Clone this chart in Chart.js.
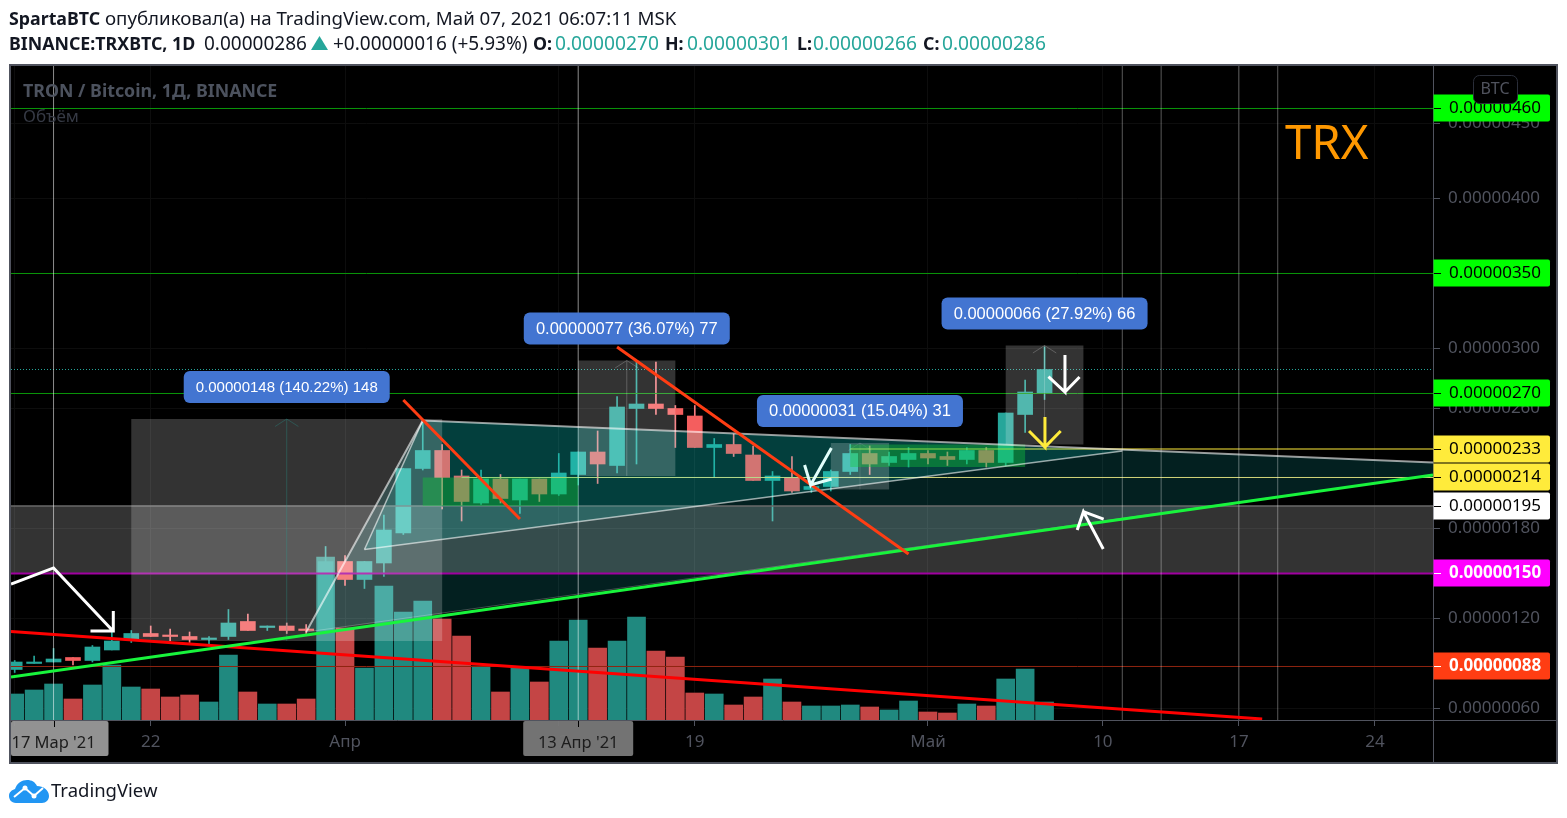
<!DOCTYPE html>
<html lang="ru"><head><meta charset="utf-8"><title>TRXBTC</title>
<script src="https://cdn.jsdelivr.net/npm/chart.js@4/dist/chart.umd.min.js"></script>
<style>
html,body{margin:0;padding:0;background:#fff;width:1567px;height:818px;overflow:hidden}
canvas{position:absolute;left:0;top:0}
.h{position:absolute;white-space:nowrap;font-family:"Noto Sans",sans-serif;font-size:19px;line-height:22px;color:#131722}
.b{font-weight:700;font-size:17.8px}.t{color:#26a69a;font-size:19.2px}
</style></head><body>
<canvas id="c" width="1567" height="818"></canvas>
<div class="h" style="left:9px;top:7px;font-size:18.7px"><span class="b">SpartaBTC</span> опубликовал(а) на TradingView.com, Май 07, 2021 06:07:11 MSK</div>
<div class="h b" style="left:9px;top:32px">BINANCE:TRXBTC, 1D</div>
<div class="h" style="left:204px;top:32px">0.00000286</div>
<svg style="position:absolute;left:311px;top:36px" width="17" height="14"><polygon points="8.5,0 17,14 0,14" fill="#26a69a"/></svg>
<div class="h" style="left:333px;top:32px">+0.00000016 (+5.93%)</div>
<div class="h b" style="left:533px;top:32px">O:</div><div class="h t" style="left:555px;top:32px">0.00000270</div>
<div class="h b" style="left:665px;top:32px">H:</div><div class="h t" style="left:687px;top:32px">0.00000301</div>
<div class="h b" style="left:797px;top:32px">L:</div><div class="h t" style="left:813px;top:32px">0.00000266</div>
<div class="h b" style="left:923px;top:32px">C:</div><div class="h t" style="left:942px;top:32px">0.00000286</div>
<svg style="position:absolute;left:9px;top:780px" width="40" height="23" viewBox="0 0 40 23"><path d="M7 23C2 23 0 19 0 16c0-4 3-6 6-7C8 3 13 0 18 0c5 0 8 2 10 6 6 0 12 4 12 10 0 4-3 7-7 7z" fill="#2196f3"/><path d="M5 17l11-9 9 8 9-8" fill="none" stroke="#fff" stroke-width="2"/><circle cx="16" cy="8" r="2.5" fill="#fff"/><circle cx="25" cy="16" r="2.5" fill="#fff"/></svg>
<div class="h" style="left:51px;top:779px;font-size:18.5px">TradingView</div>
<script>
// prices are in satoshi (1e-8 BTC); days are counted from 17 Mar 2021
const days=[-2,-1,0,1,2,3,4,5,6,7,8,9,10,11,12,13,14,15,16,17,18,19,20,21,22,23,24,25,26,27,28,29,30,31,32,33,34,35,36,37,38,39,40,41,42,43,44,45,46,47,48,49,50,51];
const opens=[86,90,91,94,92,99,106,110,109,108,106,108,118,114,115,113,112,158,146,157,177,220,232,215,197,213,199,213,203,216,231,222,260,263,260,255,234,236,229,212,214,206,208,218,230,224,226,230,228,226,232,224,256,270];
const highs=[92,95,100,94,102,112,112,115,113,111,108,126,123,115,117,116,168,162,158,189,220,251,236,219,219,216,213,213,230,231,245,268,292,291,262,262,240,243,235,218,228,210,219,236,235,231,234,232,231,234,234,257,279,301];
const lows=[84,90,91,89,91,99,104,108,105,104,103,106,112,112,110,110,112,142,140,148,176,219,193,185,196,197,190,198,202,209,210,217,223,256,234,234,214,228,212,185,204,204,205,216,216,222,221,223,222,223,221,222,244,266];
const closes=[91,91,93,92,101,105,110,108,108,106,107,117,112,115,112,112,158,146,158,179,220,232,214,198,213,200,213,203,217,231,223,261,263,260,256,234,236,230,212,215,205,208,218,230,223,228,230,227,226,232,224,257,271,286];
const volumes=[26,30,36,21,35,55,33,31,23,25,18,65,28,16,16,21,163,92,52,134,108,119,101,84,54,28,52,38,79,100,72,79,103,69,63,27,26,15,23,41,18,14,14,15,13,10,19,8,7,16,14,41,51,18];
const yTickValues=[60,120,180,260,300,400,450];
const xTickValues=[-2,5,15,26,33,45,54,61,68];
const xTickLabels=["15","22","Апр","12","19","Май","10","17","24"];
const levelPrices=[460,350,270,233,214,195,150,88];
const levelStarts=[-2.19,-2.19,-2.19,41,21,-2.19,-2.19,-2.19];
const levelLine=["#0a960a","#0a960a","#0a960a","#ffeb3b","#d4d67a","#6a6a6a","#a000a0","#8f2410"];
const levelWidths=[1,1,1,1.2,1,1.5,2,1];
const tagFills=["#00ff00","#00ff00","#00ff00","#ffeb3b","#ffeb3b","#ffffff","#ff00ff","#ff3d13"];
const tagInk=["#000","#000","#000","#000","#000","#000","#fff","#fff"];
const lastPrice=286;
const crossDays=[0,27];
const crossLabels=["17 Мар '21","13 Апр '21"];
const crossFills=["rgba(152,152,152,.96)","rgba(120,120,120,.96)"];
const extraVerticals=[55,57,61,63];
const rangeStart=[4,27,40,49];
const rangeEnd=[20,32,43,53];
const rangeLow=[105,215,206,236];
const rangeHigh=[253,292,237,302];
const rangeLabels=["0.00000148 (140.22%) 148","0.00000077 (36.07%) 77","0.00000031 (15.04%) 31","0.00000066 (27.92%) 66"];
const rangeStem=["rgba(38,166,154,.3)","rgba(255,255,255,.22)","rgba(255,255,255,.12)","rgba(255,255,255,.22)"];
const greenBoxes=[[19,27,195,214],[41,50,221,236]];
const outerPattern=[[13,111],[19,252],[71.02,224],[71.02,215.7]];
const innerPattern=[[16,166],[19,252],[55,231.7]];
const risingTrend=[[-2.19,81],[70.99,215.7]];
const fallingTrend=[[-2.19,111.3],[62.2,53]];
const orangeTrends=[[[18,265.7],[24,186.3]],[[29,301],[44,163]]];
const whiteArrows=[
 [[-2.19,143],[0,153.7],[3.06,111.7],[3.09,125],[3.06,111.7],[1.9,111.7]],
 [[52.05,295.7],[52.05,271],[51.2,281.2],[52.05,271],[52.8,281]],
 [[54.02,166.3],[53,191.2],[52.68,179],[53,191.2],[54.04,186.3]]];
const paleArrow=[[40.03,233.7],[38.96,209],[38.65,222.3],[38.96,209],[40.04,213]];
const yellowArrow=[[51.02,254.3],[51.02,234.3],[50.2,245],[51.02,234.3],[51.83,245]];

const xMin=-2.19,xMax=70.99,yMin=52.33,yMax=488.33;
const UP="#26a69a",FONT='"Noto Sans",sans-serif',GREY="#50535e";
const isUp=days.map((_,i)=>closes[i]>=opens[i]);
const pts=a=>a.map(p=>({x:p[0],y:p[1]}));
const rect=(a,b,lo,hi)=>[[a,lo],[b,lo],[b,hi],[a,hi],[a,lo]];
const ds=[];
const line=(a,color,w,extra)=>ds.push(Object.assign({type:'line',yAxisID:'y',data:pts(a),borderColor:color,borderWidth:w,pointRadius:0,tension:0,fill:false,borderJoinStyle:'miter',borderCapStyle:'butt'},extra||{}));
const shape=(a,fillC,edge,w)=>line(a,edge||'rgba(0,0,0,0)',w||0,{fill:'shape',backgroundColor:fillC});
ds.push({type:'bar',yAxisID:'v',grouped:false,barThickness:18,data:days.map((d,i)=>({x:d,y:volumes[i]})),backgroundColor:isUp.map(u=>u?"#20897f":"#c44545")});
shape(outerPattern,"rgba(20,245,245,.13)");
ds.push({type:'bar',yAxisID:'y',grouped:false,barThickness:1,data:days.map((d,i)=>({x:d,y:[lows[i],highs[i]]})),backgroundColor:isUp.map(u=>u?UP:"#f77c80")});
ds.push({type:'bar',yAxisID:'y',grouped:false,barThickness:15,minBarLength:1,data:days.map((d,i)=>({x:d,y:[opens[i],closes[i]]})),backgroundColor:isUp.map(u=>u?UP:"#f45e5e")});
shape(rect(xMin,xMax,150,195),"rgba(255,255,255,.2)");
levelPrices.forEach((p,i)=>line([[levelStarts[i],p],[xMax,p]],levelLine[i],levelWidths[i]));
line([[xMin,lastPrice],[xMax,lastPrice]],UP,1,{borderDash:[1,2]});
crossDays.forEach(d=>line([[d,yMin],[d,yMax]],"rgba(255,255,255,.55)",1));
extraVerticals.forEach(d=>line([[d,yMin],[d,yMax]],"rgba(255,255,255,.35)",1));
shape(innerPattern,"rgba(9,255,242,.14)");
rangeStart.forEach((s,i)=>{
  shape(rect(s,rangeEnd[i],rangeLow[i],rangeHigh[i]),"rgba(255,255,255,.2)");
  const m=(s+rangeEnd[i])/2;
  line([[m,rangeLow[i]],[m,rangeHigh[i]]],rangeStem[i],1);
  line([[m-.6,rangeHigh[i]-5],[m,rangeHigh[i]],[m+.6,rangeHigh[i]-5]],rangeStem[i],1);
});
greenBoxes.forEach(g=>shape(rect(g[0],g[1],g[2],g[3]),"rgba(20,200,57,.4)"));
line([outerPattern[0],outerPattern[1],outerPattern[2]],"rgba(255,255,255,.6)",2);
line([innerPattern[0],innerPattern[1]],"rgba(255,255,255,.6)",1.5);
line([innerPattern[0],innerPattern[2]],"rgba(255,255,255,.6)",1.5);
line([outerPattern[0],outerPattern[3]],"rgba(255,255,255,.25)",1);
line(fallingTrend,"#ff0000",3);
line(risingTrend,"#18f43c",3);
orangeTrends.forEach(t=>line(t,"#ff3d13",3));
whiteArrows.forEach(a=>line(a,"#ffffff",3));
line(paleArrow,"#e2fffb",3);
line(yellowArrow,"#ffeb3b",3);
ds.forEach((d,i)=>d.order=ds.length-i);

const overlay={id:'overlay',
 beforeDraw(c){const x=c.ctx;x.save();x.fillStyle='#000';x.fillRect(10,65,1547,698);x.restore();},
 afterDraw(c){
  const x=c.ctx,sx=c.scales.x,sy=c.scales.y,A=c.chartArea;
  x.save();
  x.fillStyle='#fff';x.fillRect(0,720,9,60);
  x.textBaseline='middle';x.textAlign='left';
  x.fillStyle='#4c525e';x.font='700 17.8px '+FONT;x.fillText('TRON / Bitcoin, 1Д, BINANCE',23,92);
  x.fillStyle='#363a45';x.font='400 17px '+FONT;x.fillText('Объём',23,117);
  x.fillStyle='#ff9800';x.font='400 47.4px '+FONT;x.fillText('TRX',1285,145.5);
  x.strokeStyle=GREY;x.lineWidth=2;x.strokeRect(10,65,1547,698);
  x.lineWidth=1;x.beginPath();x.moveTo(A.right+.5,66);x.lineTo(A.right+.5,762);x.moveTo(11,A.bottom+.5);x.lineTo(1556,A.bottom+.5);x.stroke();
  x.textAlign='center';
  rangeLabels.forEach((t,i)=>{
    const m=sx.getPixelForValue((rangeStart[i]+rangeEnd[i])/2),b=sy.getPixelForValue(rangeHigh[i])-16;
    x.fillStyle='#4375d1';x.beginPath();x.roundRect(m-103,b-32,206,32,6);x.fill();
    x.font='100px "Liberation Sans",Arial,sans-serif';const k=100*182/x.measureText(t).width;
    x.font=k.toFixed(2)+'px "Liberation Sans",Arial,sans-serif';x.fillStyle='#fff';x.fillText(t,m,b-15.5);
  });
  crossDays.forEach((d,i)=>{
    const m=sx.getPixelForValue(d),w=110;const l=Math.max(11,m-w/2);const r=i===0?108.5:m+w/2;
    x.fillStyle=crossFills[i];x.beginPath();x.roundRect(l,A.bottom+1,r-l,35,2);x.fill();
    x.fillStyle='#1c1c1c';x.font='16.5px '+FONT;x.textAlign='center';x.fillText(crossLabels[i],m,A.bottom+23);
    x.fillStyle='#000';x.fillRect(Math.round(m),A.bottom+1,1,6);
  });
  x.textAlign='left';
  levelPrices.forEach((p,i)=>{
    const y=Math.round(sy.getPixelForValue(p));
    x.fillStyle=tagFills[i];x.beginPath();x.roundRect(A.right+.5,y-13.5,116.5,27,[0,2,2,0]);x.fill();
    x.fillStyle=tagInk[i];x.fillRect(A.right+1,y,7,1);
    x.font=(tagInk[i]==='#fff'?'700 ':'')+'17px '+FONT;
    x.fillText('0.00000'+String(p).padStart(3,'0'),1449,y+.5);
  });
  x.fillStyle='#000';x.strokeStyle='#2a2e39';x.lineWidth=1;x.beginPath();x.roundRect(1473.5,75.5,44,28,6);x.fill();x.stroke();
  x.fillStyle=GREY;x.font='16px '+FONT;x.textAlign='center';x.fillText('BTC',1495,89.5);
  x.restore();
 }};

Chart.defaults.font.family=FONT;
new Chart(document.getElementById('c'),{type:'bar',data:{datasets:ds},plugins:[overlay],options:{
 responsive:false,animation:false,devicePixelRatio:1,
 layout:{padding:{left:11,top:66,right:0,bottom:0}},
 plugins:{legend:{display:false},tooltip:{enabled:false}},
 scales:{
  x:{type:'linear',offset:false,min:xMin,max:xMax,afterFit(s){s.height=98;s.paddingLeft=0;s.paddingRight=0;},
     afterBuildTicks(s){s.ticks=xTickValues.map(v=>({value:v}));},
     grid:{color:'#0d0d0d',tickColor:GREY,tickLength:6,offset:false},border:{display:false},
     ticks:{autoSkip:false,maxRotation:0,padding:6,color:GREY,font:{size:17},callback:v=>xTickLabels[xTickValues.indexOf(v)]}},
  y:{type:'linear',position:'right',min:yMin,max:yMax,afterFit(s){s.width=134;s.paddingTop=0;s.paddingBottom=0;},
     afterBuildTicks(s){s.ticks=yTickValues.map(v=>({value:v}));},
     grid:{color:'#0d0d0d',tickColor:GREY,tickLength:7},border:{display:false},
     ticks:{padding:8,color:GREY,font:{size:17},callback:v=>'0.00000'+String(v).padStart(3,'0')}},
  v:{type:'linear',display:false,min:0,max:654}
 }}});
</script></body></html>
